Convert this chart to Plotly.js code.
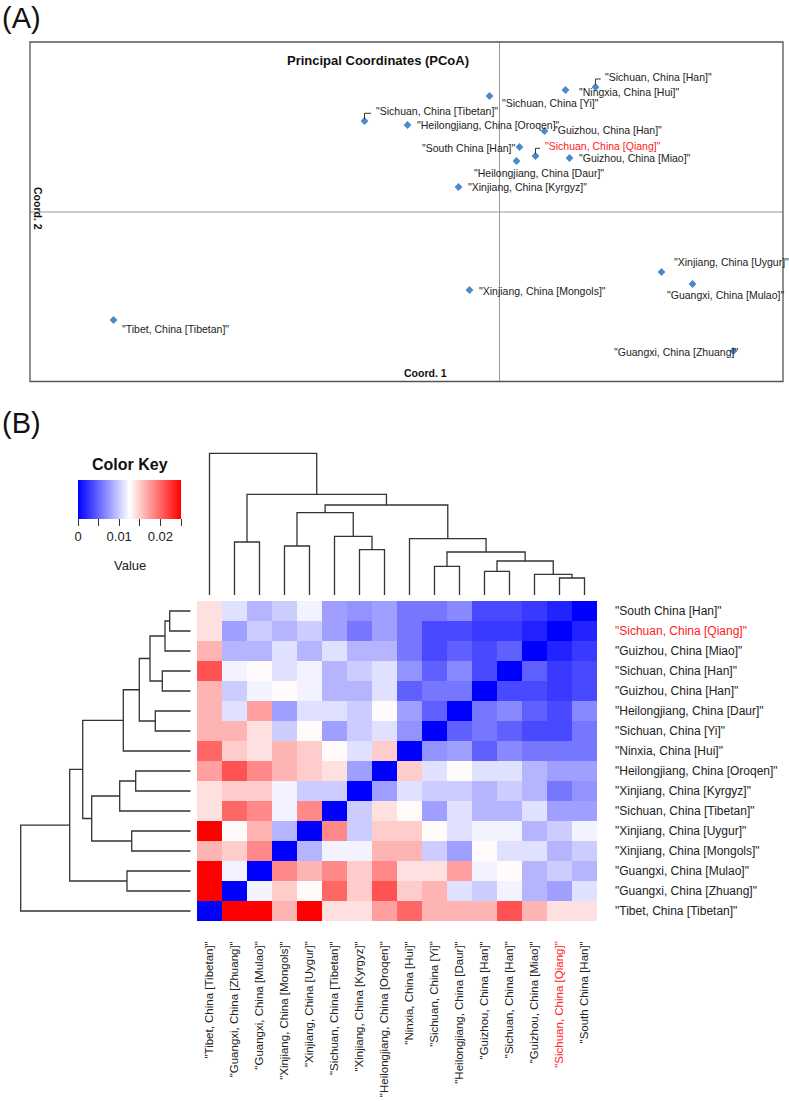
<!DOCTYPE html>
<html><head><meta charset="utf-8">
<script src="https://cdn.plot.ly/plotly-3.0.1.min.js"></script>
<style>html,body{margin:0;padding:0;background:#fff}#chart{width:789px;height:1101px}</style>
</head><body><div id="chart"></div>
<script>
const W = 789, H = 1101;
const FONT = 'Liberation Sans, Arial, sans-serif';

// ---------- Panel A: PCoA ----------
const pcoaNames = ['Sichuan, China [Han]', 'Ningxia, China [Hui]', 'Sichuan, China [Yi]', 'Sichuan, China [Tibetan]',
  'Heilongjiang, China [Oroqen]', 'Guizhou, China [Han]', 'South China [Han]', 'Sichuan, China [Qiang]',
  'Guizhou, China [Miao]', 'Heilongjiang, China [Daur]', 'Xinjiang, China [Kyrgyz]', 'Xinjiang, China [Uygur]',
  'Guangxi, China [Mulao]', 'Xinjiang, China [Mongols]', 'Tibet, China [Tibetan]', 'Guangxi, China [Zhuang]'];
const coord1 = [0.0096, 0.0066, -0.0010, -0.0135, -0.0092, 0.0045, 0.0020, 0.0036, 0.0070, 0.0017, -0.0041, 0.0162, 0.0193, -0.0030, -0.0386, 0.0234];
const coord2 = [0.0125, 0.0122, 0.0116, 0.0091, 0.0087, 0.0081, 0.0065, 0.0056, 0.0054, 0.0051, 0.0025, -0.0060, -0.0072, -0.0078, -0.0108, -0.0139];
const highlighted = 'Sichuan, China [Qiang]';

// ---------- Panel B: heatmap ----------
const colLabels = ['Tibet, China [Tibetan]', 'Guangxi, China [Zhuang]', 'Guangxi, China [Mulao]', 'Xinjiang, China [Mongols]',
  'Xinjiang, China [Uygur]', 'Sichuan, China [Tibetan]', 'Xinjiang, China [Kyrgyz]', 'Heilongjiang, China [Oroqen]',
  'Ninxia, China [Hui]', 'Sichuan, China [Yi]', 'Heilongjiang, China [Daur]', 'Guizhou, China [Han]',
  'Sichuan, China [Han]', 'Guizhou, China [Miao]', 'Sichuan, China [Qiang]', 'South China [Han]'];
const rowLabels = ['South China [Han]', 'Sichuan, China [Qiang]', 'Guizhou, China [Miao]', 'Sichuan, China [Han]',
  'Guizhou, China [Han]', 'Heilongjiang, China [Daur]', 'Sichuan, China [Yi]', 'Ninxia, China [Hui]',
  'Heilongjiang, China [Oroqen]', 'Xinjiang, China [Kyrgyz]', 'Sichuan, China [Tibetan]', 'Xinjiang, China [Uygur]',
  'Xinjiang, China [Mongols]', 'Guangxi, China [Mulao]', 'Guangxi, China [Zhuang]', 'Tibet, China [Tibetan]'];
const distMatrix = [
  [0.0140, 0.0110, 0.0088, 0.0100, 0.0119, 0.0078, 0.0072, 0.0078, 0.0058, 0.0058, 0.0067, 0.0036, 0.0036, 0.0028, 0.0017, 0.0000],
  [0.0140, 0.0078, 0.0100, 0.0088, 0.0100, 0.0078, 0.0058, 0.0078, 0.0058, 0.0036, 0.0036, 0.0028, 0.0028, 0.0017, 0.0000, 0.0017],
  [0.0162, 0.0088, 0.0088, 0.0110, 0.0088, 0.0110, 0.0088, 0.0088, 0.0058, 0.0036, 0.0047, 0.0036, 0.0047, 0.0000, 0.0017, 0.0028],
  [0.0210, 0.0119, 0.0127, 0.0110, 0.0119, 0.0088, 0.0100, 0.0110, 0.0072, 0.0047, 0.0067, 0.0036, 0.0000, 0.0047, 0.0028, 0.0036],
  [0.0162, 0.0100, 0.0119, 0.0127, 0.0119, 0.0088, 0.0088, 0.0110, 0.0047, 0.0058, 0.0058, 0.0000, 0.0036, 0.0036, 0.0028, 0.0036],
  [0.0162, 0.0110, 0.0172, 0.0078, 0.0110, 0.0110, 0.0100, 0.0127, 0.0078, 0.0047, 0.0000, 0.0058, 0.0067, 0.0047, 0.0036, 0.0067],
  [0.0162, 0.0162, 0.0140, 0.0100, 0.0127, 0.0078, 0.0100, 0.0110, 0.0072, 0.0000, 0.0047, 0.0058, 0.0047, 0.0036, 0.0036, 0.0058],
  [0.0200, 0.0150, 0.0140, 0.0162, 0.0150, 0.0127, 0.0110, 0.0150, 0.0000, 0.0072, 0.0078, 0.0047, 0.0067, 0.0058, 0.0058, 0.0058],
  [0.0172, 0.0210, 0.0183, 0.0162, 0.0150, 0.0140, 0.0078, 0.0000, 0.0150, 0.0110, 0.0127, 0.0110, 0.0110, 0.0088, 0.0078, 0.0078],
  [0.0140, 0.0150, 0.0150, 0.0119, 0.0100, 0.0100, 0.0000, 0.0078, 0.0110, 0.0100, 0.0100, 0.0088, 0.0100, 0.0088, 0.0058, 0.0072],
  [0.0140, 0.0200, 0.0183, 0.0119, 0.0183, 0.0000, 0.0100, 0.0140, 0.0127, 0.0078, 0.0110, 0.0088, 0.0088, 0.0110, 0.0078, 0.0078],
  [0.0250, 0.0127, 0.0162, 0.0088, 0.0000, 0.0183, 0.0100, 0.0150, 0.0150, 0.0127, 0.0110, 0.0119, 0.0119, 0.0088, 0.0100, 0.0119],
  [0.0162, 0.0150, 0.0183, 0.0000, 0.0088, 0.0119, 0.0119, 0.0162, 0.0162, 0.0100, 0.0078, 0.0127, 0.0110, 0.0110, 0.0088, 0.0100],
  [0.0250, 0.0119, 0.0000, 0.0183, 0.0162, 0.0183, 0.0150, 0.0183, 0.0140, 0.0140, 0.0172, 0.0119, 0.0127, 0.0088, 0.0100, 0.0088],
  [0.0250, 0.0000, 0.0119, 0.0150, 0.0127, 0.0200, 0.0150, 0.0210, 0.0150, 0.0162, 0.0110, 0.0100, 0.0119, 0.0088, 0.0078, 0.0110],
  [0.0000, 0.0250, 0.0250, 0.0162, 0.0250, 0.0140, 0.0140, 0.0172, 0.0200, 0.0162, 0.0162, 0.0162, 0.0210, 0.0162, 0.0140, 0.0140]
];
const keyTickVals = [0, 0.005, 0.01, 0.015, 0.02, 0.025];
const keyTickText = ['0', '', '0.01', '', '0.02', ''];

// Dendrograms (hclust style: negative = leaf position (1-based), positive = earlier merge)
const colMergeA = [-15, -14, -12, -10, 3, 4, -7, -4, -2, -9, -6, 8, 12, 9, -1];
const colMergeB = [-16, 1, -13, -11, 2, 5, -8, -5, -3, 6, 7, 11, 10, 13, 14];
const colMergeH = [17, 20.7, 23.7, 28.7, 34, 43, 45.3, 49, 53, 56.3, 58.7, 82.3, 90, 100.7, 141.7];
const rowMergeA = [-1, 1, -4, -6, 2, 5, -9, -12, -14, 6, 7, 11, 10, 9, 14];
const rowMergeB = [-2, -3, -5, -7, 3, 4, -10, -13, -15, -8, -11, 8, 12, 13, -16];
const rowMergeH = [21, 25.7, 28.4, 35.4, 40.7, 51.4, 55, 59, 63.7, 67.4, 71, 99, 108, 121, 170];

// ---------- helpers ----------
const px = x => x / W, py = y => 1 - y / H;
function dendro(A, B, Hh) {
  const pos = [], ht = [], P = [], Q = [];
  const gp = v => v < 0 ? (-v - 1) : pos[v - 1];
  const gh = v => v < 0 ? 0 : ht[v - 1];
  for (let i = 0; i < A.length; i++) {
    const pa = gp(A[i]), pb = gp(B[i]), ha = gh(A[i]), hb = gh(B[i]), h = Hh[i];
    P.push(pa, pa, pb, pb, null); Q.push(ha, h, h, hb, null);
    pos.push((pa + pb) / 2); ht.push(h);
  }
  return {P, Q};
}
const quote = s => '"' + s + '"';
const redSpan = s => '<span style="color:#ff2020">' + s + '</span>';
const idx = colLabels.map((_, i) => i);

const colD = dendro(colMergeA, colMergeB, colMergeH);
const rowD = dendro(rowMergeA, rowMergeB, rowMergeH);

const traces = [
  {
    type: 'heatmap', x: idx, y: idx, z: distMatrix, xaxis: 'x', yaxis: 'y',
    zmin: 0, zmax: 0.025,
    colorscale: [[0, '#0000ff'], [0.5, '#ffffff'], [1, '#ff0000']],
    hoverinfo: 'skip',
    colorbar: {
      orientation: 'h', x: px(78), xanchor: 'left', y: py(480), yanchor: 'top',
      len: 103, lenmode: 'pixels', thickness: 39, thicknessmode: 'pixels',
      xpad: 0, ypad: 0, outlinewidth: 0, ticks: 'outside', ticklen: 7, tickcolor: '#333',
      tickvals: keyTickVals, ticktext: keyTickText,
      tickfont: {family: FONT, size: 13, color: '#222'}
    }
  },
  {
    type: 'scatter', mode: 'lines', x: colD.P, y: colD.Q, xaxis: 'x3', yaxis: 'y3',
    line: {color: '#333', width: 1.3}, hoverinfo: 'skip', showlegend: false
  },
  {
    type: 'scatter', mode: 'lines', x: rowD.Q, y: rowD.P, xaxis: 'x4', yaxis: 'y4',
    line: {color: '#333', width: 1.3}, hoverinfo: 'skip', showlegend: false
  },
  {
    type: 'scatter', mode: 'markers', x: coord1, y: coord2, xaxis: 'x2', yaxis: 'y2',
    marker: {symbol: 'diamond', size: 6, color: '#4a88cc'}, hoverinfo: 'skip', showlegend: false, cliponaxis: false
  }
];

// label offsets (pixels) for PCoA labels: [dx, dy, anchor, leader]
const labelPlacement = [
  [7.7, -10, 'left', true], [11, 2, 'left', false], [10, 7, 'left', false], [9, -9.7, 'left', true],
  [7.5, 0, 'left', false], [7.6, -0.7, 'left', false], [-2, 0.7, 'right', false], [7, -9.7, 'left', true],
  [7.3, 0, 'left', false], [22, 12, 'center', false], [7.3, 0, 'left', false], [10, -10, 'left', false],
  [-27.7, 11, 'left', false], [7, 0.7, 'left', false], [6.6, 9, 'left', false], [6, 0.7, 'right', false]
];

const annotations = [];
const leaderShapes = [];
pcoaNames.forEach((n, i) => {
  const [dx, dy, anc, leader] = labelPlacement[i];
  const col = n === highlighted ? '#ff2020' : '#222';
  annotations.push({
    xref: 'x2', yref: 'y2', x: coord1[i], y: coord2[i], text: quote(n),
    font: {family: FONT, size: 10.5, color: col}, xanchor: anc, yanchor: 'middle',
    showarrow: false, xshift: dx, yshift: -dy
  });
  if (leader) {
    leaderShapes.push({
      type: 'path', xref: 'x2', yref: 'y2', xsizemode: 'pixel', ysizemode: 'pixel',
      xanchor: coord1[i], yanchor: coord2[i],
      path: 'M0,2 L0,' + (-dy - 2) + ' L' + (dx - 2.5) + ',' + (-dy - 2),
      line: {color: '#333', width: 1}
    });
  }
});
annotations.push(
  {xref: 'paper', yref: 'paper', x: px(0), y: py(18), text: '(A)', showarrow: false, xanchor: 'left', yanchor: 'middle', font: {family: FONT, size: 29, color: '#111'}},
  {xref: 'paper', yref: 'paper', x: px(0), y: py(423), text: '(B)', showarrow: false, xanchor: 'left', yanchor: 'middle', font: {family: FONT, size: 29, color: '#111'}},
  {xref: 'paper', yref: 'paper', x: px(377.5), y: py(60), text: '<b>Principal Coordinates (PCoA)</b>', showarrow: false, xanchor: 'center', yanchor: 'middle', font: {family: FONT, size: 13, color: '#111'}},
  {xref: 'paper', yref: 'paper', x: px(425), y: py(373), text: '<b>Coord. 1</b>', showarrow: false, xanchor: 'center', yanchor: 'middle', font: {family: FONT, size: 10.5, color: '#111'}},
  {xref: 'paper', yref: 'paper', x: px(38), y: py(208), text: '<b>Coord. 2</b>', showarrow: false, textangle: 90, xanchor: 'center', yanchor: 'middle', font: {family: FONT, size: 10.5, color: '#111'}},
  {xref: 'paper', yref: 'paper', x: px(129.5), y: py(464), text: '<b>Color Key</b>', showarrow: false, xanchor: 'center', yanchor: 'middle', font: {family: FONT, size: 16, color: '#111'}},
  {xref: 'paper', yref: 'paper', x: px(129.5), y: py(565), text: 'Value', showarrow: false, xanchor: 'center', yanchor: 'middle', font: {family: FONT, size: 13, color: '#222'}}
);

const hidden = {visible: false, showgrid: false, zeroline: false, fixedrange: true};
const layout = {
  width: W, height: H, margin: {l: 0, r: 0, t: 0, b: 0},
  paper_bgcolor: '#fff', plot_bgcolor: 'rgba(0,0,0,0)', showlegend: false,
  font: {family: FONT, color: '#222'},
  xaxis: {
    domain: [px(197), px(597)], range: [-0.5, 15.5], anchor: 'y', showgrid: false, zeroline: false,
    tickvals: idx, ticktext: colLabels.map(s => s === highlighted ? redSpan(quote(s)) : quote(s)),
    tickangle: -90, ticks: '', ticklabelstandoff: 17, tickfont: {family: FONT, size: 11.5, color: '#222'}
  },
  yaxis: {
    domain: [py(921), py(601)], range: [15.5, -0.5], anchor: 'x', side: 'right', showgrid: false, zeroline: false,
    tickvals: idx, ticktext: rowLabels.map(s => s === highlighted ? redSpan(quote(s)) : quote(s)),
    ticks: '', ticklabelstandoff: 17, tickfont: {family: FONT, size: 12, color: '#222'}
  },
  xaxis2: Object.assign({}, hidden, {domain: [px(30), px(783)], range: [-0.04695, 0.02835], anchor: 'y2'}),
  yaxis2: Object.assign({}, hidden, {domain: [py(381.5), py(42)], range: [-0.01695, 0.0170], anchor: 'x2'}),
  xaxis3: Object.assign({}, hidden, {domain: [px(197), px(597)], range: [-0.5, 15.5], anchor: 'y3'}),
  yaxis3: Object.assign({}, hidden, {domain: [py(595), py(450)], range: [0, 145], anchor: 'x3'}),
  xaxis4: Object.assign({}, hidden, {domain: [px(15), px(190.7)], range: [175.7, 0], anchor: 'y4'}),
  yaxis4: Object.assign({}, hidden, {domain: [py(921), py(601)], range: [15.5, -0.5], anchor: 'x4'}),
  shapes: [
    {type: 'line', xref: 'x2', yref: 'y2 domain', x0: 0, x1: 0, y0: 0, y1: 1, line: {color: '#999', width: 1}},
    {type: 'line', xref: 'x2 domain', yref: 'y2', x0: 0, x1: 1, y0: 0, y1: 0, line: {color: '#999', width: 1}},
    {type: 'rect', xref: 'x2 domain', yref: 'y2 domain', x0: 0, x1: 1, y0: 0, y1: 1, line: {color: '#555', width: 1.3}}
  ].concat(leaderShapes),
  annotations: annotations
};

Plotly.newPlot('chart', traces, layout, {staticPlot: true, displayModeBar: false});
</script>
</body></html>
